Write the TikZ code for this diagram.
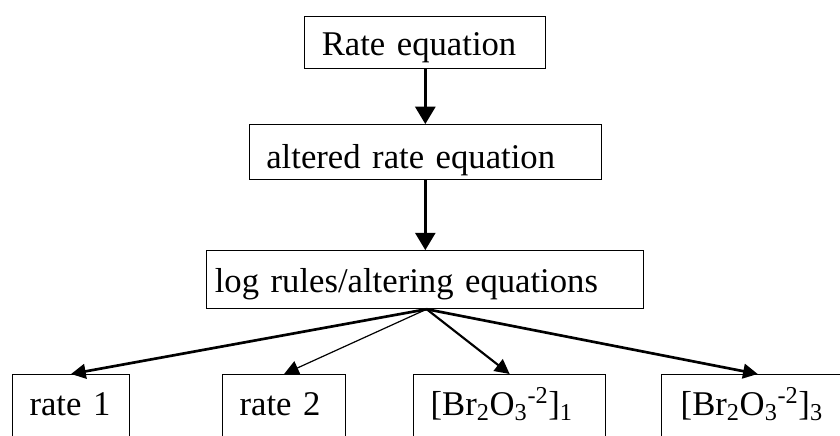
\documentclass[tikz,border=0pt]{standalone}
\usepackage{fontspec}
\setmainfont{Liberation Serif}
\usetikzlibrary{arrows.meta,positioning}

\begin{document}
\begin{tikzpicture}[
            stage/.style={
                draw,
                line width=0.8pt,
                align=left,
                inner xsep=12.75pt,
                inner ysep=0pt,
                font=\fontsize{26}{30}\selectfont
            },
            leaf/.style={
                stage,
                inner ysep=3pt,
                text height=27.75pt,
                text depth=40pt
            },
            flow/.style={
                -{Triangle[length=13pt,width=15pt]},
                line width=2pt
            },
            fanout/.style={
                -{Triangle[length=11pt,width=11pt]}
            },
            node distance=41.25pt
        ]

            % --- Frame of the picture ---
            \clip (0,0) rectangle (630pt,-327pt);

            % --- Chain of equations ---
            \node[stage, anchor=north, text width=155.25pt,
                  text height=29.25pt, text depth=9.75pt] (rateeq) at (319pt,-12pt) {Rate equation};
            \node[stage, below=of rateeq, text width=238.5pt,
                  text height=33pt, text depth=8.25pt] (altered) {altered rate equation};
            \node[stage, below=52.5pt of altered, inner xsep=6pt, text width=315.75pt,
                  text height=31.5pt, text depth=12pt] (logrules) {log rules/altering equations};

            \draw[flow] (rateeq) -- (altered);
            \draw[flow] (altered) -- (logrules);

            % --- Results (cut by the lower edge) ---
            \node[leaf, anchor=north west, text width=62.25pt] (rateone) at (9pt,-280.5pt) {rate 1};
            \node[leaf, right=69pt of rateone, text width=66.75pt] (ratetwo) {rate 2};
            \node[leaf, right=50.25pt of ratetwo, text width=118.5pt] (brone)
                {[Br\textsubscript{2}O\textsubscript{3}\textsuperscript{-2}]\textsubscript{1}};
            \node[leaf, right=41.25pt of brone, inner xsep=14.25pt, text width=115.5pt] (brthree)
                {[Br\textsubscript{2}O\textsubscript{3}\textsuperscript{-2}]\textsubscript{3}};

            \coordinate (fork) at ([xshift=1pt]logrules.south);
            \foreach \t/\w in {rateone/2pt,ratetwo/0.9pt,brone/1.6pt,brthree/2pt} {
                \draw[fanout, line width=\w] (fork) -- (\t.north);
            }
        \end{tikzpicture}
\end{document}
